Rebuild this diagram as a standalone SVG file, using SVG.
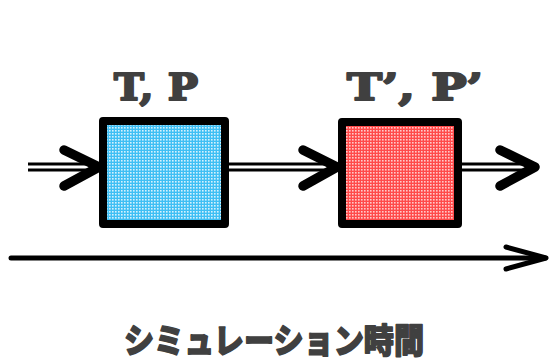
<svg xmlns="http://www.w3.org/2000/svg" width="550" height="363" viewBox="0 0 550 363">
  <defs>
    <pattern id="dotsBlue" width="3" height="3" patternUnits="userSpaceOnUse">
      <rect width="3" height="3" fill="#3fbff4"/>
      <rect x="1" y="1" width="1.6" height="1.6" fill="#d6f2fd"/>
    </pattern>
    <pattern id="dotsRed" width="3" height="3" patternUnits="userSpaceOnUse">
      <rect width="3" height="3" fill="#ff4a4a"/>
      <rect x="1" y="1" width="1.6" height="1.6" fill="#ffcaca"/>
    </pattern>
  </defs>
  <style>
    .box { stroke: #000; stroke-width: 8; stroke-linejoin: round; }
    .pipe-outer { stroke: #000; stroke-width: 9; fill: none; }
    .pipe-inner { stroke: #fff; stroke-width: 3; fill: none; }
    .head { stroke: #000; stroke-width: 9.5; fill: none; stroke-linecap: round; stroke-linejoin: round; }
    .axis { stroke: #000; stroke-width: 5; fill: none; stroke-linecap: round; stroke-linejoin: round; }
    .label { font-family: "DejaVu Serif", "Liberation Serif", serif; font-weight: bold; font-size: 37px; fill: #404040; stroke: #404040; stroke-width: 2; stroke-linejoin: round; }
    .caption { font-family: "Noto Sans CJK JP", "Noto Sans", sans-serif; font-weight: 900; font-size: 34px; fill: #404040; stroke: #404040; stroke-width: 1.5; stroke-linejoin: round; }
  </style>

  <g id="connectors">
    <!-- inflow -->
    <line class="pipe-outer" x1="28" y1="167" x2="98" y2="167"/>
    <line class="pipe-inner" x1="28" y1="167" x2="98" y2="167"/>
    <polyline class="head" points="64,150 99,167 64,186"/>
    <!-- between boxes -->
    <line class="pipe-outer" x1="228" y1="167" x2="336" y2="167"/>
    <line class="pipe-inner" x1="228" y1="167" x2="336" y2="167"/>
    <polyline class="head" points="303,150 337,167 303,186"/>
    <!-- outflow -->
    <line class="pipe-outer" x1="461" y1="167" x2="534" y2="167"/>
    <line class="pipe-inner" x1="461" y1="167" x2="534" y2="167"/>
    <polyline class="head" points="500,150 535,167 500,186"/>
    <!-- time axis -->
    <line class="axis" x1="11" y1="258" x2="545" y2="258"/>
    <polyline class="axis" points="506,247 546,258 506,269"/>
  </g>

  <g id="state-before">
    <rect class="box" x="103" y="121" width="122" height="103" fill="url(#dotsBlue)"/>
    <text class="label" x="156" y="100" text-anchor="middle" textLength="84" lengthAdjust="spacingAndGlyphs">T, P</text>
  </g>

  <g id="state-after">
    <rect class="box" x="342" y="122" width="116" height="102" fill="url(#dotsRed)"/>
    <text class="label" x="415" y="100" text-anchor="middle" textLength="136" lengthAdjust="spacingAndGlyphs">T’, P’</text>
  </g>

  <g id="time-label">
    <text class="caption" x="274" y="353" text-anchor="middle" textLength="300" lengthAdjust="spacingAndGlyphs">シミュレーション時間</text>
  </g>
</svg>
